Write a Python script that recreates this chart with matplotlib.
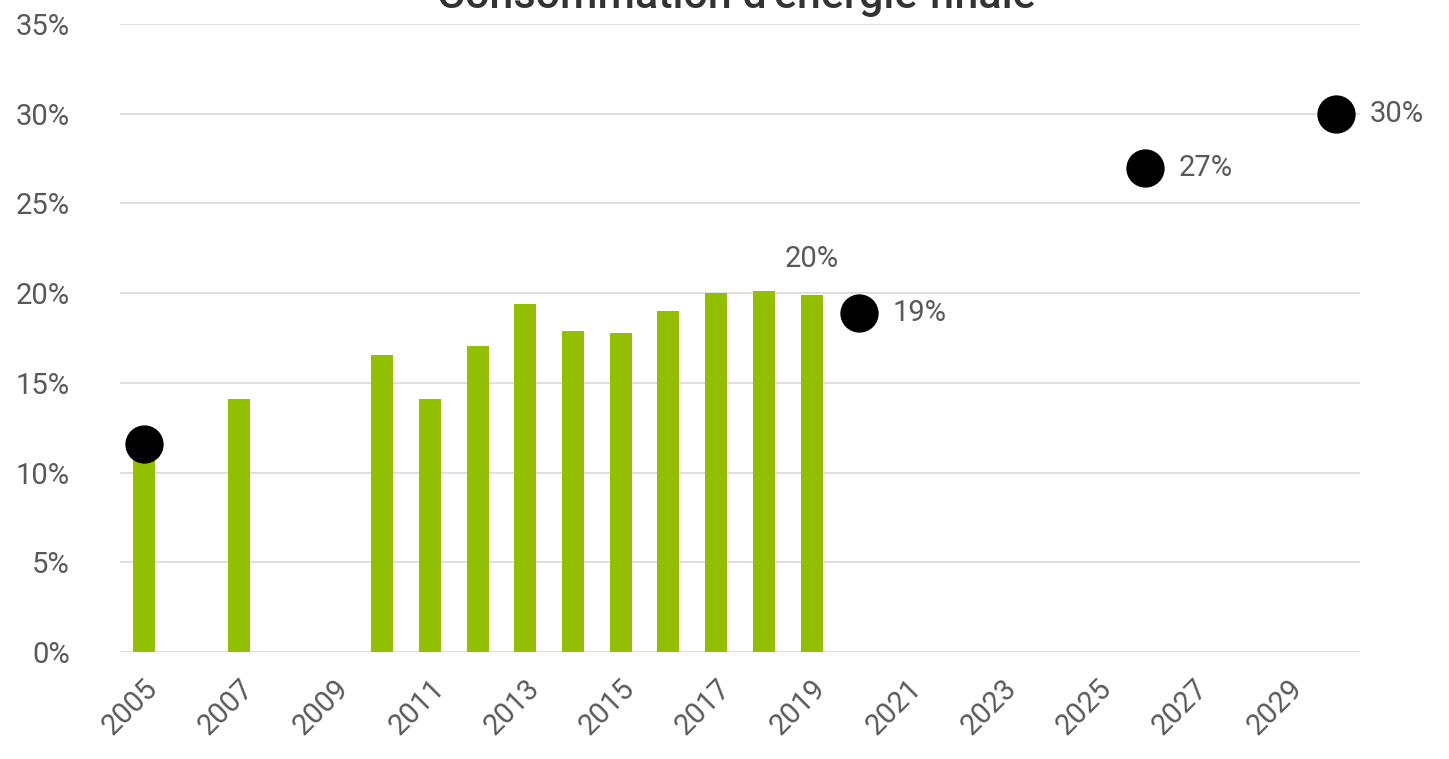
import matplotlib
matplotlib.use("Agg")
import matplotlib.pyplot as plt
import numpy as np

years = list(range(2005, 2031))
bar_years = [2005, 2007, 2010, 2011, 2012, 2013, 2014, 2015, 2016, 2017, 2018, 2019]
bar_values = [11.0, 14.1, 16.55, 14.1, 17.05, 19.4, 17.9, 17.8, 19.0, 20.0, 20.1, 19.9]
dot_years = [2005, 2020, 2026, 2030]
dot_values = [11.6, 18.9, 27.0, 30.0]
dot_labels = ["", "19%", "27%", "30%"]
bar_label_year = 2019
bar_label_text = "20%"
title = "Consommation d'énergie finale"

text_color = "#595959"
bar_color = "#92c000"
font = "Roboto"

fig = plt.figure(figsize=(14.49, 7.59), dpi=100)
ax = fig.add_axes([120/1449, 107/759, 1240/1449, 628/759])

pos = {y: i for i, y in enumerate(years)}
ax.bar([pos[y] for y in bar_years], [v/100 for v in bar_values], width=0.46,
       color=bar_color, zorder=2)
ax.scatter([pos[y] for y in dot_years], [v/100 for v in dot_values], s=760,
           color="black", zorder=3, linewidths=0)
for y, v, lab in zip(dot_years, dot_values, dot_labels):
    if lab:
        ax.annotate(lab, (pos[y], v/100), xytext=(24, 0), textcoords="offset points",
                    va="center", ha="left", fontsize=21, color=text_color, family=font)
bv = bar_values[bar_years.index(bar_label_year)]
ax.annotate(bar_label_text, (pos[bar_label_year], bv/100), xytext=(0, 16),
            textcoords="offset points", ha="center", va="bottom",
            fontsize=21, color=text_color, family=font)

ax.set_xlim(-0.5, len(years) - 0.5)
ax.set_ylim(0, 0.35)
yt = np.arange(0, 0.351, 0.05)
ax.set_yticks(yt)
ax.set_yticklabels([f"{int(round(t*100))}%" for t in yt],
                   fontsize=21, color=text_color, family=font)
tick_years = years[::2]
ax.set_xticks([pos[y] for y in tick_years])
ax.set_xticklabels([str(y) for y in tick_years], rotation=45, ha="right",
                   rotation_mode="anchor", fontsize=21, color=text_color, family=font)
ax.tick_params(axis="both", length=0)
ax.tick_params(axis="y", pad=36)
ax.tick_params(axis="x", pad=16)
ax.grid(axis="y", color="#d9d9d9", linewidth=1.2, zorder=0)
ax.set_axisbelow(True)
for s in ax.spines.values():
    s.set_visible(False)

fig.text(0.508, 1 - 8/759, title, ha="center", va="baseline", fontsize=31,
         fontweight="medium", color="#333333", family=font)

fig.savefig("out.png", dpi=100)
